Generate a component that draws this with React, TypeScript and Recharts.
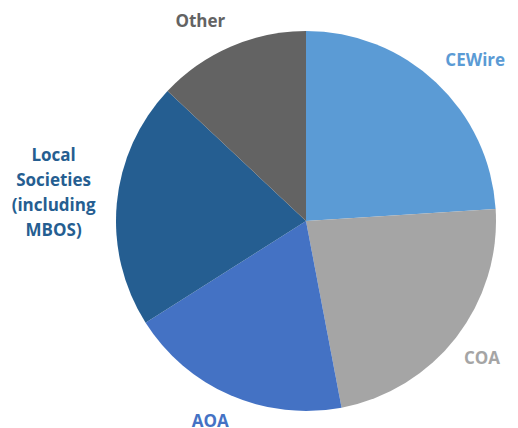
import { PieChart, Pie, Cell } from 'recharts'

const categories = ['CEWire', 'COA', 'AOA', 'Local Societies (including MBOS)', 'Other']
const shares = [24, 23, 19, 21, 13]
const COLORS = ['#5B9BD5', '#A5A5A5', '#4472C4', '#255E91', '#636363']

const data = categories.map((name, i) => ({ name, value: shares[i] }))

const RADIAN = Math.PI / 180
const FONT = 17
const LINE_H = 25

// greedy word wrap, ~10 chars a line like the excel label box
const wrap = (s: string) => {
  const out: string[] = []
  s.split(' ').forEach(w => {
    const last = out[out.length - 1]
    if (last && (last + ' ' + w).length <= 10) out[out.length - 1] = last + ' ' + w
    else out.push(w)
  })
  return out
}

const clamp = (v: number) => Math.max(-1, Math.min(1, v))

const OutsideLabel = ({ cx, cy, midAngle, outerRadius, index }: any) => {
  const lines = wrap(categories[index])
  const ux = Math.cos(-midAngle * RADIAN)
  const uy = Math.sin(-midAngle * RADIAN)
  const halfW = (Math.max(...lines.map(l => l.length)) * FONT * 0.58) / 2
  const halfH = (lines.length * LINE_H) / 2
  const r = outerRadius + 14
  const x = cx + r * ux + halfW * clamp(ux * 3)
  const y = cy + r * uy + halfH * clamp(uy * 2)
  const top = y - ((lines.length - 1) * LINE_H) / 2 + FONT * 0.35
  return (
    <text x={x} y={top} textAnchor="middle" fill={COLORS[index]} fontSize={FONT} fontWeight={700} fontFamily="'Open Sans', sans-serif">
      {lines.map((l, i) => (
        <tspan key={i} x={x} dy={i === 0 ? 0 : LINE_H}>{l}</tspan>
      ))}
    </text>
  )
}

export default function App() {
  return (
    <div style={{ position: 'absolute', left: 0, top: 0, width: 518, height: 428, background: '#fff' }}>
      <PieChart width={518} height={428} margin={{ top: 0, right: 0, bottom: 0, left: 0 }}>
        <Pie
          data={data}
          dataKey="value"
          nameKey="name"
          cx={306}
          cy={221}
          outerRadius={190}
          startAngle={90}
          endAngle={-270}
          stroke="none"
          labelLine={false}
          label={OutsideLabel}
          isAnimationActive={false}
        >
          {data.map((_, i) => <Cell key={i} fill={COLORS[i]} />)}
        </Pie>
      </PieChart>
    </div>
  )
}
